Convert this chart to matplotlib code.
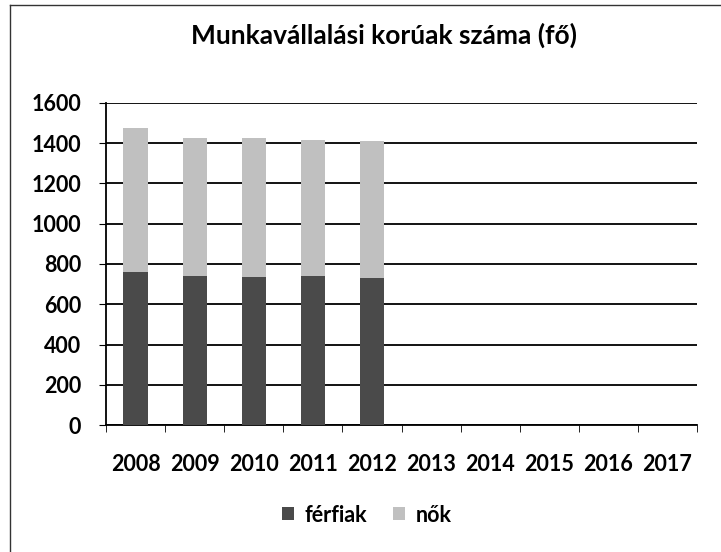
import matplotlib.pyplot as plt
from matplotlib.lines import Line2D
import numpy as np

plt.rcParams['font.family'] = ['Lato', 'DejaVu Sans']

years = ['2008', '2009', '2010', '2011', '2012', '2013', '2014', '2015', '2016', '2017']
ferfiak = [760, 738, 735, 738, 732]
nok = [718, 689, 689, 678, 679]

fig = plt.figure(figsize=(7.21, 5.52), dpi=100)
ax = fig.add_axes([106 / 721, 1 - 425 / 552, (697 - 106) / 721, (425 - 103) / 552])

x = np.arange(len(years))
xd = x[:len(ferfiak)]
ax.bar(xd, ferfiak, width=0.41, color='#4a4a4a', label='férfiak', zorder=3)
ax.bar(xd, nok, width=0.41, bottom=ferfiak, color='#c0c0c0', label='nők', zorder=3)

ax.set_xlim(-0.5, len(years) - 0.5)
ax.set_ylim(0, 1600)
ax.set_yticks(range(0, 1601, 200))
ax.yaxis.grid(True, color='black', linewidth=1.3, zorder=0)
ax.set_axisbelow(True)

ax.set_xticks(x)
ax.set_xticklabels(years, fontsize=15.5, fontweight='bold')
ax.set_xticks(np.arange(-0.5, len(years)), minor=True)
ax.tick_params(axis='x', which='major', length=0, pad=21)
ax.tick_params(axis='x', which='minor', length=5, direction='out', color='black')
ax.tick_params(axis='y', labelsize=15.5, length=5, direction='out', pad=13)
for lbl in ax.get_yticklabels():
    lbl.set_fontweight('bold')

for s in ['top', 'right']:
    ax.spines[s].set_visible(False)
ax.spines['left'].set_linewidth(1.3)
ax.spines['bottom'].set_linewidth(1.3)

fig.text(384 / 721, 1 - 35 / 552, 'Munkavállalási korúak száma (fő)',
         fontsize=19, fontweight='bold', ha='center', va='center')

fig.legend(loc='center', bbox_to_anchor=(367 / 721, 1 - 515 / 552), ncol=2,
           frameon=False, prop={'size': 15.5, 'weight': 'bold'},
           handlelength=0.55, handleheight=0.55,
           handletextpad=0.5, columnspacing=1.2)

# frame of the original chart (left and top edges visible)
fig.add_artist(Line2D([10 / 721, 10 / 721], [0, 1 - 5 / 552], transform=fig.transFigure,
                      color='#333333', linewidth=1))
fig.add_artist(Line2D([10 / 721, 1], [1 - 5 / 552, 1 - 5 / 552], transform=fig.transFigure,
                      color='#333333', linewidth=1))

fig.savefig('out.png', dpi=100)
